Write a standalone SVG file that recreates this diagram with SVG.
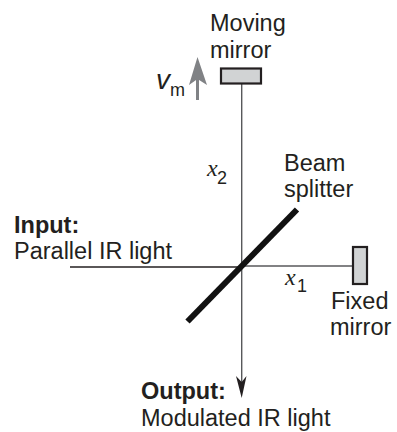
<svg xmlns="http://www.w3.org/2000/svg" width="397" height="432" viewBox="0 0 397 432">
<style>
text{font-family:"Liberation Sans",Arial,sans-serif;font-size:23.5px;fill:#231f20}
.b{font-weight:bold}
.s{font-size:18px}
.i{font-family:"Liberation Serif","Times New Roman",serif;font-style:italic;font-size:24px}
.l{stroke:#58595b;stroke-width:1.4;fill:none}
.m{fill:#d1d3d4;stroke:#231f20;stroke-width:2.2}
</style>
<g id="connectors">
<path class="l" d="M241.700 84V390"/>
<path d="M70 267H241.700" stroke="#231f20" stroke-width="1.400" fill="none"/>
<path class="l" d="M241.700 266H353"/>
<path d="M236 376L241.700 382L246.500 376L241.700 398Z" fill="#231f20"/>
<path d="M197.500 100V75" stroke="#808285" stroke-width="3" fill="none"/>
<path d="M189 85L197.500 57L207 85L197.500 79Z" fill="#808285"/>
</g>
<g id="moving-mirror"><rect class="m" x="221" y="68.500" width="40" height="15"/>
<text x="210" y="31">Moving</text><text x="210" y="58">mirror</text></g>
<g id="velocity"><text x="156" y="89" style="font-size:28px;font-style:italic">v</text><text class="s" x="170" y="96">m</text></g>
<g id="fixed-mirror"><rect class="m" x="353" y="247" width="14" height="37"/>
<text x="331" y="309">Fixed</text><text x="330" y="335">mirror</text></g>
<g id="beam-splitter"><path d="M187.500 321.500L297 209.500" stroke="#111" stroke-width="6" fill="none"/>
<text x="284" y="171">Beam</text><text x="284" y="197">splitter</text></g>
<g id="input"><text class="b" x="14" y="233">Input:</text><text x="14" y="259">Parallel IR light</text></g>
<g id="output"><text class="b" x="141" y="399">Output:</text><text x="141" y="426">Modulated IR light</text></g>
<g id="x2"><text class="i" x="207" y="176">x</text><text class="s" x="217" y="184">2</text></g>
<g id="x1"><text class="i" x="285" y="285">x</text><text class="s" x="297" y="292">1</text></g>
</svg>
